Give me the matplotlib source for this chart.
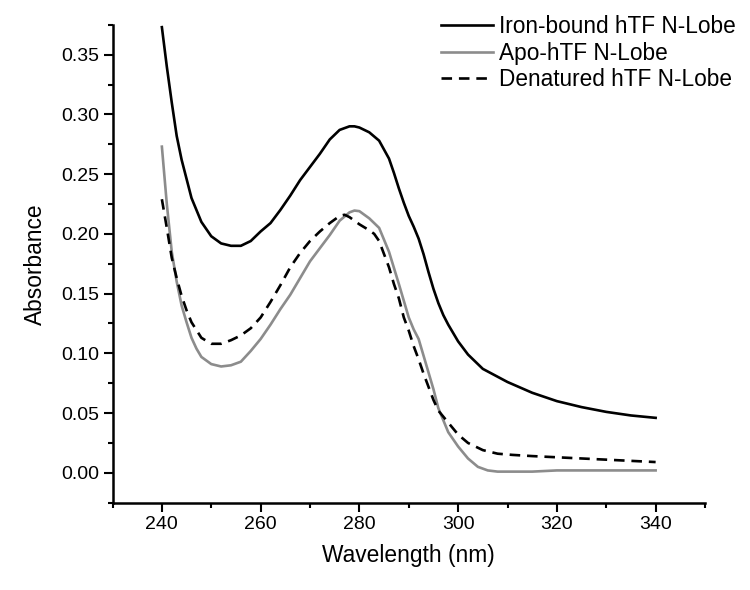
import matplotlib
matplotlib.use('Agg')
import matplotlib.pyplot as plt
from matplotlib.ticker import MultipleLocator, FormatStrFormatter

plt.rcParams['font.family'] = ['Liberation Sans', 'DejaVu Sans']

# Iron-bound hTF N-Lobe
wl_iron = [240, 241, 242, 243, 244, 245, 246, 248, 250, 252, 254, 256, 258, 260,
           262, 264, 266, 268, 270, 272, 274, 276, 278, 279, 280, 282, 284, 286,
           287, 288, 289, 290, 291, 292, 293, 294, 295, 296, 297, 298, 300, 302,
           305, 310, 315, 320, 325, 330, 335, 340]
abs_iron = [0.373, 0.340, 0.310, 0.282, 0.262, 0.246, 0.230, 0.210, 0.198, 0.192,
            0.190, 0.190, 0.194, 0.202, 0.209, 0.220, 0.232, 0.245, 0.256, 0.267,
            0.279, 0.287, 0.290, 0.290, 0.289, 0.285, 0.278, 0.263, 0.251, 0.238,
            0.226, 0.215, 0.206, 0.196, 0.183, 0.168, 0.154, 0.142, 0.132, 0.124,
            0.110, 0.099, 0.087, 0.076, 0.067, 0.060, 0.055, 0.051, 0.048, 0.046]

# Apo-hTF N-Lobe
wl_apo = [240, 241, 242, 243, 244, 245, 246, 247, 248, 250, 252, 254, 256, 258,
          260, 262, 264, 266, 268, 270, 272, 274, 276, 278, 279, 280, 282, 284,
          286, 288, 290, 291, 292, 293, 294, 295, 296, 298, 300, 302, 304, 306,
          308, 310, 315, 320, 325, 330, 335, 340]
abs_apo = [0.273, 0.225, 0.185, 0.160, 0.140, 0.126, 0.113, 0.104, 0.097, 0.091,
           0.089, 0.090, 0.093, 0.102, 0.112, 0.124, 0.137, 0.149, 0.163, 0.177,
           0.188, 0.199, 0.211, 0.218, 0.2195, 0.219, 0.213, 0.205, 0.185, 0.158,
           0.130, 0.120, 0.112, 0.098, 0.084, 0.070, 0.054, 0.034, 0.022, 0.012,
           0.005, 0.002, 0.001, 0.001, 0.001, 0.002, 0.002, 0.002, 0.002, 0.002]

# Denatured hTF N-Lobe
wl_den = [240, 241, 242, 243, 244, 245, 246, 248, 250, 252, 254, 256, 258, 260,
          262, 264, 266, 268, 270, 272, 274, 276, 277, 278, 280, 282, 283, 284,
          285, 286, 287, 288, 289, 290, 291, 292, 293, 294, 295, 296, 298, 300,
          302, 305, 308, 311, 315, 320, 325, 330, 335, 340]
abs_den = [0.229, 0.205, 0.180, 0.163, 0.148, 0.136, 0.126, 0.113, 0.108, 0.108,
           0.111, 0.115, 0.121, 0.130, 0.143, 0.157, 0.172, 0.184, 0.194, 0.202,
           0.209, 0.215, 0.216, 0.214, 0.208, 0.203, 0.200, 0.194, 0.183, 0.172,
           0.158, 0.146, 0.130, 0.119, 0.106, 0.095, 0.083, 0.072, 0.061, 0.052,
           0.042, 0.032, 0.025, 0.019, 0.016, 0.015, 0.014, 0.013, 0.012, 0.011,
           0.010, 0.009]

fig = plt.figure(figsize=(7.5, 5.9), dpi=100)
ax = fig.add_axes([0.150, 0.148, 0.790, 0.810])

ax.plot(wl_iron, abs_iron, color='black', lw=1.9, label='Iron-bound hTF N-Lobe')
ax.plot(wl_apo, abs_apo, color='#8c8c8c', lw=1.9, label='Apo-hTF N-Lobe')
ax.plot(wl_den, abs_den, color='black', lw=1.9, ls=(0, (4, 2.6)),
        label='Denatured hTF N-Lobe')

ax.set_xlim(230, 350)
ax.set_ylim(-0.025, 0.375)
ax.xaxis.set_major_locator(MultipleLocator(20))
ax.xaxis.set_minor_locator(MultipleLocator(10))
ax.yaxis.set_major_locator(MultipleLocator(0.05))
ax.yaxis.set_minor_locator(MultipleLocator(0.025))
ax.yaxis.set_major_formatter(FormatStrFormatter('%.2f'))

for side in ['top', 'right']:
    ax.spines[side].set_visible(False)
for side in ['left', 'bottom']:
    ax.spines[side].set_linewidth(1.8)

ax.tick_params(which='major', direction='out', length=6.5, width=1.5,
               labelsize=14, pad=3)
ax.tick_params(which='minor', direction='out', length=3.6, width=1.5)

ax.set_xlabel('Wavelength (nm)', fontsize=16.4, labelpad=8)
ax.set_ylabel('Absorbance', fontsize=16.4, labelpad=10)

ax.legend(loc='upper right', bbox_to_anchor=(1.068, 1.04), frameon=False,
          fontsize=16.3, handlelength=2.3, handletextpad=0.3,
          labelspacing=0.17, borderaxespad=0)

fig.savefig('out.png', dpi=100)
